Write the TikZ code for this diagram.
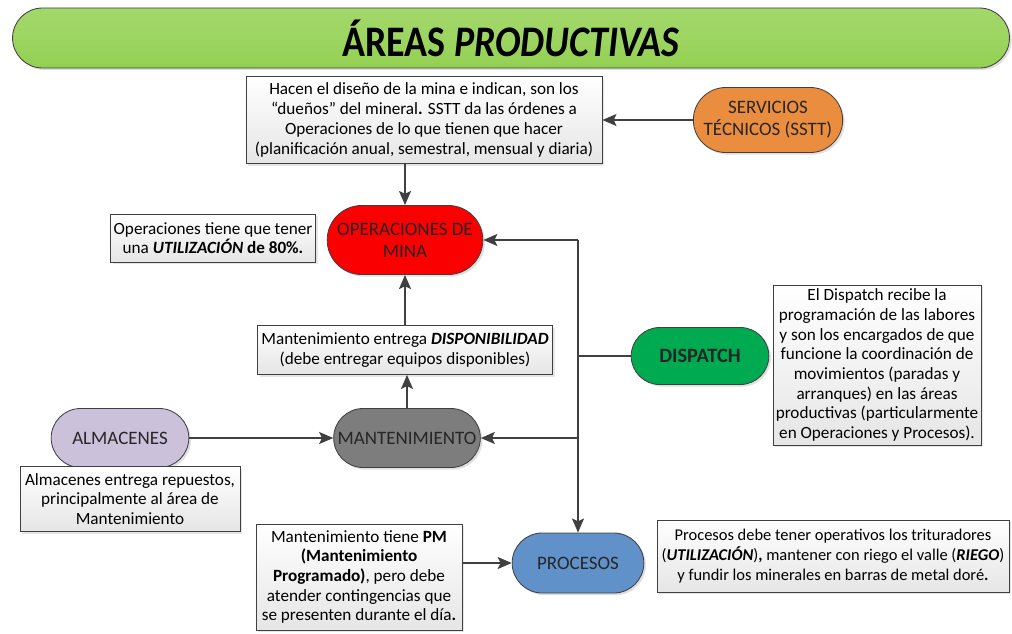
\documentclass[tikz,border=0pt]{standalone}
\usepackage{fontspec}
\setmainfont{Carlito}
\usepackage{tikz}
\usetikzlibrary{arrows.meta, positioning, calc, shapes.misc, shadows}
\definecolor{TitleGreen}{RGB}{146,208,80}
\definecolor{SsttOrange}{RGB}{235,141,62}
\definecolor{MineRed}{RGB}{250,0,0}
\definecolor{MantGray}{RGB}{125,125,125}
\definecolor{AlmLilac}{RGB}{204,193,218}
\definecolor{DispGreen}{RGB}{0,170,80}
\definecolor{ProcBlue}{RGB}{96,145,200}
\definecolor{LineGray}{RGB}{64,64,64}

\begin{document}
\begin{tikzpicture}[x=0.025cm, y=-0.025cm, >={Stealth[length=10pt, width=8.5pt, inset=2pt]},
    area/.style={rounded rectangle, draw=LineGray, line width=0.6pt, text=black!85,
        font=\fontsize{13.5}{15.5}\selectfont, align=center,
        drop shadow={shadow xshift=1.5pt, shadow yshift=-1.5pt, opacity=0.25}},
    note/.style={rectangle, draw=LineGray, line width=0.5pt, top color=white, bottom color=black!10,
        font=\fontsize{12.2}{14}\selectfont, align=center, inner sep=2pt,
        drop shadow={shadow xshift=1.5pt, shadow yshift=-1.5pt, opacity=0.2}},
    link/.style={draw=LineGray, line width=1.4pt}]
    \useasboundingbox (0,0) rectangle (1012,633);

    % Title
    \node[area, minimum width=25.15cm, minimum height=1.5cm, top color=TitleGreen!85!white,
        bottom color=TitleGreen, middle color=TitleGreen!90!white, text=black] (title) at (511,38)
        {\scalebox{0.87}[1]{\fontsize{31}{31}\selectfont\bfseries ÁREAS \textit{PRODUCTIVAS}}};

    % Areas
    \node[area, fill=SsttOrange, minimum width=3.725cm, minimum height=1.625cm] (sstt) at (768,120)
        {SERVICIOS\\TÉCNICOS (SSTT)};
    \node[area, fill=MineRed, minimum width=4.125cm, minimum height=1.725cm] (oper) at (405,240)
        {OPERACIONES DE\\MINA};
    \node[area, fill=MantGray, minimum width=3.9cm, minimum height=1.475cm] (mant) at (407,438)
        {MANTENIMIENTO};
    \node[area, fill=AlmLilac, minimum width=3.675cm, minimum height=1.475cm] (alm) at (120,438)
        {ALMACENES};
    \node[area, fill=DispGreen, minimum width=3.675cm, minimum height=1.425cm,
        font=\fontsize{14.5}{16}\selectfont\bfseries] (disp) at (700,356) {DISPATCH};
    \node[area, fill=ProcBlue, minimum width=3.525cm, minimum height=1.5cm] (proc) at (578,563)
        {PROCESOS};

    % Notes
    \node[note, minimum width=8.9cm, minimum height=2.175cm, font=\fontsize{12.2}{14.3}\selectfont] (sttnote) at (424,120)
        {Hacen el diseño de la mina e indican, son los\\“dueños” del mineral\textbf{.} SSTT da las órdenes a\\
         Operaciones de lo que tienen que hacer\\(planificación anual, semestral, mensual y diaria)};
    \node[note, minimum width=5.125cm, minimum height=1.2cm] (utilnote) at (213,238)
        {Operaciones tiene que tener\\una \textbf{\textit{UTILIZACIÓN}} \textbf{de 80\%.}};
    \node[note, minimum width=7.375cm, minimum height=1.225cm] (dispnote) at (405,350)
        {Mantenimiento entrega \textbf{\textit{DISPONIBILIDAD}}\\(debe entregar equipos disponibles)};
    \node[note, minimum width=5.5cm, minimum height=1.625cm] (almnote) at (130,499)
        {Almacenes entrega repuestos,\\principalmente al área de\\Mantenimiento};
    \node[note, minimum width=5.15cm, minimum height=4cm] (dispatchnote) at (877,365)
        {El Dispatch recibe la\\programación de las labores\\y son los encargados de que\\funcione la coordinación de\\
         movimientos (paradas y\\arranques) en las áreas\\productivas (particularmente\\en Operaciones y Procesos).};
    \node[note, minimum width=5.15cm, minimum height=2.65cm] (pmnote) at (359,577)
        {Mantenimiento tiene \textbf{PM}\\\textbf{(Mantenimiento}\\\textbf{Programado)}, pero debe\\
         atender contingencias que\\se presenten durante el día\textbf{.}};
    \node[note, minimum width=8.8cm, minimum height=1.8cm, font=\fontsize{11.7}{14}\selectfont] (procnote) at (833,556)
        {Procesos debe tener operativos los trituradores\\
         (\textbf{\textit{UTILIZACIÓN}})\textbf{,} mantener con riego el valle (\textbf{\textit{RIEGO}})\\
         y fundir los minerales en barras de metal doré\textbf{.}};

    % Connectors
    \draw[link, ->] (sstt.west) -- (sttnote.east);
    \draw[link, ->] (oper.north |- sttnote.south) -- (oper.north);
    \draw[link, ->] (dispnote.north) -- (oper.south);
    \draw[link, ->] (mant.north) -- (dispnote.south -| mant.north);
    \draw[link, ->] (alm.east) -- (mant.west);
    \draw[link, ->] (pmnote.east |- proc.west) -- (proc.west);

    % Dispatch bus
    \coordinate (bus) at (proc.north |- oper.east);
    \draw[link, ->] (bus) -- (oper.east);
    \draw[link, ->] (bus) -- (proc.north);
    \draw[link] (disp.west) -- (disp.west -| bus);
    \draw[link, ->] (mant.east -| bus) -- (mant.east);
\end{tikzpicture}
\end{document}
